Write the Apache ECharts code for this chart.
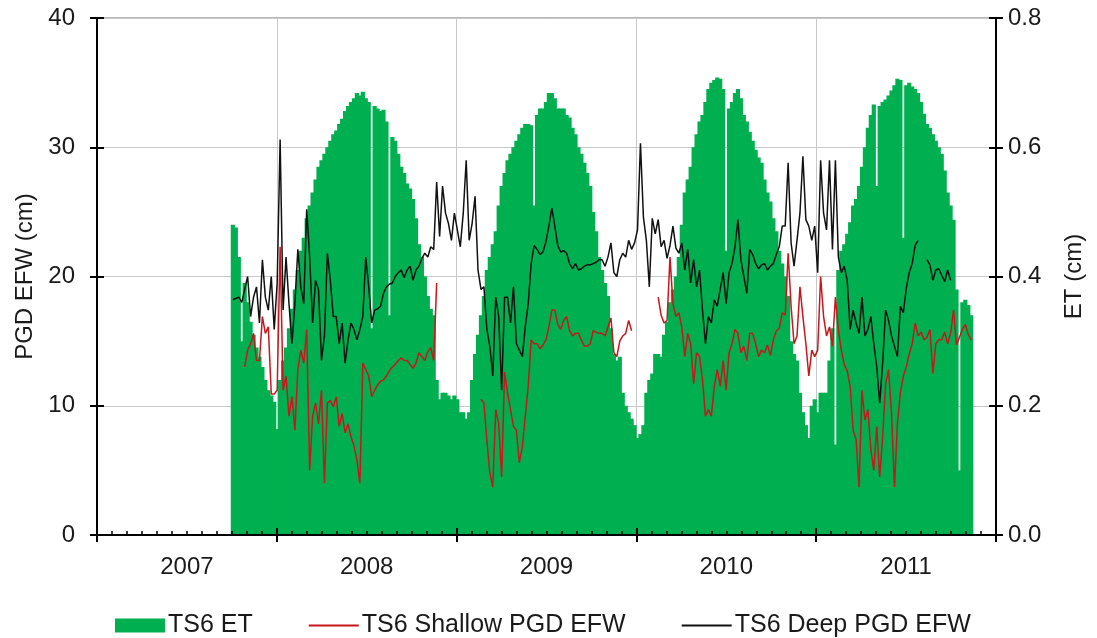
<!DOCTYPE html>
<html><head><meta charset="utf-8">
<script src="https://cdn.jsdelivr.net/npm/echarts@6/dist/echarts.min.js"></script>
<style>html,body{margin:0;padding:0;background:#fff}#c{width:1097px;height:638px}</style>
</head><body><div id="c"></div>
<script>
// ---- data ----
const yearLabels = ['2007', '2008', '2009', '2010', '2011'];
const START_YEAR = 2007, END_YEAR = 2012;
const FIRST_DAY = 276;   // days after 1 Jan 2007 of the first record
const STEP_DAYS = 6;     // spacing of the records (days)

// TS6 ET (cm), right axis
const etCm = [
0.48,0.476,0.43,0.30,0.39,0.36,0.33,0.31,0.29,0.276,
0.26,0.24,0.224,0.216,0.206,0.164,0.24,0.27,0.29,0.32,
0.35,0.38,0.41,0.44,0.46,0.49,0.51,0.53,0.55,0.57,
0.58,0.59,0.60,0.61,0.62,0.626,0.636,0.644,0.656,0.664,
0.67,0.676,0.684,0.68,0.686,0.676,0.67,0.32,0.664,0.66,
0.656,0.658,0.64,0.34,0.616,0.61,0.59,0.57,0.56,0.544,
0.536,0.52,0.49,0.45,0.43,0.40,0.37,0.35,0.34,0.24,
0.21,0.22,0.22,0.216,0.21,0.216,0.21,0.19,0.19,0.18,
0.19,0.24,0.28,0.31,0.34,0.37,0.41,0.43,0.45,0.47,
0.51,0.54,0.56,0.58,0.59,0.60,0.61,0.62,0.63,0.636,
0.636,0.634,0.51,0.65,0.66,0.66,0.67,0.684,0.684,0.676,
0.66,0.66,0.66,0.65,0.646,0.63,0.62,0.60,0.59,0.576,
0.56,0.54,0.50,0.47,0.43,0.41,0.39,0.37,0.32,0.28,
0.27,0.276,0.22,0.20,0.19,0.18,0.17,0.15,0.156,0.17,
0.22,0.24,0.25,0.28,0.28,0.276,0.31,0.33,0.36,0.38,
0.40,0.43,0.48,0.53,0.55,0.57,0.60,0.62,0.64,0.65,
0.67,0.69,0.70,0.704,0.708,0.706,0.69,0.44,0.66,0.67,
0.684,0.69,0.676,0.65,0.64,0.624,0.61,0.596,0.584,0.576,
0.55,0.53,0.516,0.49,0.47,0.44,0.42,0.40,0.37,0.30,
0.28,0.27,0.22,0.19,0.17,0.15,0.20,0.21,0.19,0.22,
0.22,0.22,0.27,0.32,0.14,0.41,0.44,0.45,0.466,0.484,
0.51,0.52,0.54,0.57,0.60,0.63,0.65,0.666,0.54,0.664,
0.67,0.674,0.68,0.688,0.696,0.706,0.704,0.46,0.696,0.70,
0.694,0.69,0.684,0.67,0.652,0.636,0.63,0.62,0.61,0.60,
0.59,0.564,0.53,0.51,0.488,0.38,0.10,0.36,0.364,0.356,
0.34];

// TS6 Shallow PGD EFW (cm), left axis
const shallowEFW = [
null,null,null,null,13.0,14.3,14.8,15.6,13.5,13.5,
16.9,15.6,16.1,10.9,10.9,11.2,22.3,11.2,12.3,9.2,
10.7,8.1,12.8,14.3,13.3,15.9,5.0,9.2,10.2,8.6,
11.2,4.0,10.2,10.4,9.9,10.7,8.4,9.4,7.9,8.6,
7.6,6.9,5.8,4.0,13.3,12.8,12.3,10.7,11.2,11.6,
11.9,12.0,12.3,12.7,13.0,13.2,13.5,13.7,13.5,13.5,
13.2,12.9,13.3,14.1,13.8,13.5,14.2,14.5,13.5,19.5,
null,null,null,null,null,null,null,null,null,null,
null,null,null,null,10.5,10.2,7.3,4.8,3.7,9.7,
8.6,4.5,12.6,11.0,9.7,8.4,8.1,5.6,6.8,9.2,
11.5,15.1,14.8,14.8,14.4,14.7,15.1,16.1,17.4,17.4,
16.3,15.9,16.6,16.9,15.8,15.4,15.6,15.6,15.1,14.6,
14.6,14.8,15.8,15.7,15.6,15.6,15.4,16.1,16.8,14.1,
13.8,15.0,15.4,15.6,16.6,15.8,null,null,null,null,
null,null,null,null,18.4,17.0,16.4,16.6,21.5,17.9,
16.9,17.2,16.1,13.8,15.6,14.8,11.7,14.1,13.8,12.0,
9.2,9.7,9.2,11.5,12.8,11.5,13.5,11.2,14.1,14.8,
15.9,15.6,14.1,14.6,13.5,15.6,15.6,14.8,13.8,14.3,
14.1,14.7,13.9,15.1,15.8,16.0,17.2,17.0,21.8,17.7,
14.8,15.4,19.2,16.9,14.8,12.3,14.3,13.8,14.3,20.0,
16.9,15.4,16.1,14.6,18.4,15.9,14.3,13.2,12.7,11.5,
8.1,7.4,3.7,11.2,8.9,9.7,6.6,5.0,8.4,4.5,
7.6,11.7,12.8,9.4,3.7,8.6,11.0,12.3,13.0,14.0,
14.8,16.4,15.4,15.7,15.1,15.3,15.9,12.5,14.8,15.1,
15.1,15.7,14.8,15.6,17.4,14.7,15.3,15.9,16.3,15.5,
15.1];

// TS6 Deep PGD EFW (cm), left axis
const deepEFW = [
18.2,18.3,18.4,18.0,19.0,20.0,16.9,18.4,19.2,16.4,
21.3,18.4,17.4,20.0,15.9,19.5,30.6,17.4,21.5,17.9,
14.8,17.9,22.1,19.2,17.9,25.2,21.5,16.4,19.7,19.0,
13.5,15.4,21.8,19.7,16.9,16.9,14.8,16.4,13.3,15.1,
16.4,15.9,15.1,15.9,16.9,21.5,19.2,16.4,17.4,17.5,
17.7,18.7,19.2,19.4,19.5,20.0,20.3,20.5,19.9,20.5,
20.8,19.7,20.5,20.8,21.4,21.8,21.5,22.3,22.1,27.3,
23.1,27.0,24.9,24.1,22.8,24.9,23.6,22.3,24.9,29.0,
22.8,24.1,26.2,20.5,19.0,19.2,15.9,14.6,12.3,18.4,
16.9,11.2,18.4,18.4,16.4,19.2,14.8,14.3,13.8,16.1,
17.9,21.0,22.4,22.1,21.7,21.9,22.7,23.9,25.3,23.9,
22.4,21.9,22.0,21.8,21.0,20.6,21.0,20.5,20.6,20.8,
20.9,20.9,21.0,21.1,21.3,21.3,20.8,21.5,22.6,20.3,
20.0,21.3,21.8,21.5,22.8,22.1,22.6,23.6,30.3,24.6,
22.8,19.2,24.5,23.3,24.4,22.3,22.8,21.4,22.4,23.9,
22.2,21.8,22.6,20.5,22.1,19.5,21.3,19.2,20.5,17.4,
14.8,16.9,16.4,18.2,17.7,19.0,20.3,17.9,20.3,21.0,
22.3,24.4,21.3,20.0,18.7,22.1,21.7,21.0,20.6,20.9,
21.0,20.5,20.8,21.0,21.7,22.3,23.9,23.9,28.8,22.6,
20.8,22.8,24.9,29.3,24.4,23.9,22.8,23.9,20.3,29.0,
24.9,23.6,29.0,22.1,29.0,21.5,20.3,20.8,19.7,15.9,
17.4,16.4,15.6,18.4,15.4,15.9,16.9,14.8,13.0,10.2,
13.3,17.4,16.6,15.4,14.6,13.8,17.7,17.2,19.1,20.3,
21.0,22.4,22.8,null,null,21.3,20.9,19.7,20.5,20.6,
20.1,19.6,20.5,19.7,null,null,null,null,null,null,
null];

// ---- chart ----
function withDates(arr) {
  return arr.map((v, i) => [START_YEAR + (FIRST_DAY + i * STEP_DAYS) / 365.25, v]);
}
const FONT = "'Liberation Sans', Arial, sans-serif";
const TXT = '#1a1a1a';
const chart = echarts.init(document.getElementById('c'), null, { renderer: 'canvas' });
chart.setOption({
  animation: false,
  backgroundColor: '#fff',
  textStyle: { fontFamily: FONT },
  grid: { left: 97, right: 101, top: 18, bottom: 103, show: true, borderColor: '#707070', borderWidth: 1, backgroundColor: 'transparent' },
  legend: {
    left: 110, top: 608, itemWidth: 50, itemHeight: 14, itemGap: 55,
    textStyle: { fontSize: 25, color: TXT, fontFamily: FONT, padding: [0, 0, 0, -2] },
    data: [
      { name: 'TS6 ET', icon: 'rect' },
      { name: 'TS6 Shallow PGD EFW', lineStyle: { width: 2 }, itemStyle: { opacity: 0 } },
      { name: 'TS6 Deep PGD EFW', lineStyle: { width: 2 }, itemStyle: { opacity: 0 } }
    ]
  },
  xAxis: [
    { type: 'value', min: START_YEAR, max: END_YEAR, interval: 1, z: 0,
      axisLine: { show: false }, axisTick: { show: false }, axisLabel: { show: false },
      splitLine: { show: true, lineStyle: { color: '#c8c8c8', width: 1 } } },
    { type: 'value', min: START_YEAR, max: END_YEAR, interval: 1, z: 10, position: 'bottom',
      axisLine: { show: true, onZero: false, lineStyle: { color: '#000', width: 2 } },
      axisTick: { show: true, inside: true, length: 7, lineStyle: { color: '#000', width: 2 } },
      minorTick: { show: true, splitNumber: 12, length: 4, lineStyle: { color: '#000', width: 1.5 } },
      axisLabel: { show: false }, splitLine: { show: false } },
    { type: 'category', data: yearLabels, boundaryGap: true, z: 10, position: 'bottom',
      axisLine: { show: false },
      axisTick: { show: true, length: 7, lineStyle: { color: '#000', width: 2 } },
      axisLabel: { margin: 20, fontSize: 24, color: TXT, fontFamily: FONT },
      splitLine: { show: false } }
  ],
  yAxis: [
    { type: 'value', min: 0, max: 40, interval: 10, position: 'left', z: 0,
      axisLine: { show: false }, axisTick: { show: false }, axisLabel: { show: false },
      splitLine: { show: true, lineStyle: { color: '#c8c8c8', width: 1 } } },
    { type: 'value', min: 0, max: 0.8, interval: 0.2, position: 'right', z: 10,
      name: 'ET (cm)', nameLocation: 'middle', nameGap: 66, nameRotate: 90,
      nameTextStyle: { fontSize: 24, color: TXT, fontFamily: FONT },
      axisLine: { show: true, lineStyle: { color: '#000', width: 2 } },
      axisTick: { show: true, length: 7, lineStyle: { color: '#000', width: 2 } },
      axisLabel: { margin: 12, fontSize: 24, color: TXT, fontFamily: FONT, formatter: v => v.toFixed(1) },
      splitLine: { show: false } },
    { type: 'value', min: 0, max: 40, interval: 10, position: 'left', z: 10,
      name: 'PGD EFW (cm)', nameLocation: 'middle', nameGap: 52, nameRotate: 90,
      nameTextStyle: { fontSize: 24, color: TXT, fontFamily: FONT },
      axisLine: { show: true, lineStyle: { color: '#000', width: 2 } },
      axisTick: { show: true, length: 7, lineStyle: { color: '#000', width: 2 } },
      axisLabel: { margin: 22, fontSize: 24, color: TXT, fontFamily: FONT },
      splitLine: { show: false } },
    { type: 'value', min: 0, max: 40, interval: 10, position: 'left', z: 10,
      axisLine: { show: false }, axisLabel: { show: false }, splitLine: { show: false },
      axisTick: { show: true, inside: true, length: 7, lineStyle: { color: '#000', width: 2 } } },
    { type: 'value', min: 0, max: 0.8, interval: 0.2, position: 'right', z: 10,
      axisLine: { show: false }, axisLabel: { show: false }, splitLine: { show: false },
      axisTick: { show: true, inside: true, length: 7, lineStyle: { color: '#000', width: 2 } } }
  ],
  series: [
    { name: 'TS6 ET', type: 'bar', xAxisIndex: 0, yAxisIndex: 1, barWidth: 4.2,
      itemStyle: { color: '#00b050' }, data: withDates(etCm), z: 2 },
    { name: 'TS6 Shallow PGD EFW', type: 'line', xAxisIndex: 0, yAxisIndex: 0, symbol: 'none',
      lineStyle: { color: '#c8161d', width: 1.5 }, itemStyle: { color: '#c8161d' },
      connectNulls: false, data: withDates(shallowEFW), z: 3 },
    { name: 'TS6 Deep PGD EFW', type: 'line', xAxisIndex: 0, yAxisIndex: 0, symbol: 'none',
      lineStyle: { color: '#111', width: 1.5 }, itemStyle: { color: '#111' },
      connectNulls: false, data: withDates(deepEFW), z: 4 }
  ]
});
</script></body></html>
